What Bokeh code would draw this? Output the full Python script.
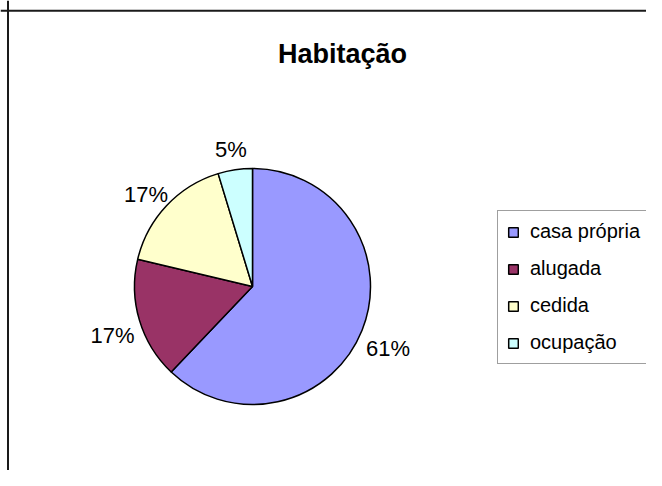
import math
from bokeh.plotting import figure
from bokeh.models import ColumnDataSource, Range1d, Span, Legend, LegendItem
from bokeh.core.properties import value
from bokeh.embed import file_html
from bokeh.resources import INLINE

# ---- data ----
title_text = "Habitação"
categories = ["casa própria", "alugada", "cedida", "ocupação"]
shares = [62.1, 16.6, 16.6, 4.7]          # slice sizes (%)
pct_labels = ["61%", "17%", "17%", "5%"]   # labels as printed on the chart
colors = ["#9999FF", "#993366", "#FFFFCC", "#CCFFFF"]

# ---- geometry (screen pixel space, y flipped) ----
W, H = 646, 470
PAGE_H = 486
cx, cy = 252, PAGE_H - 286
radius = 118
label_r = 146
font = "Liberation Sans"

total = sum(shares)
starts, ends, lx, ly = [], [], [], []
cum = 0.0
for s in shares:
    a0 = cum / total
    cum += s
    a1 = cum / total
    starts.append(math.pi / 2 - a0 * 2 * math.pi)
    ends.append(math.pi / 2 - a1 * 2 * math.pi)
    mid = (a0 + a1) / 2 * 2 * math.pi
    lx.append(cx + label_r * math.sin(mid))
    ly.append(cy + label_r * math.cos(mid) - 7.8)

src = ColumnDataSource(dict(cat=categories, start=starts, end=ends, color=colors,
                            lx=lx, ly=ly, lab=pct_labels))

p = figure(width=W, height=H, output_backend="svg", toolbar_location=None,
           x_range=Range1d(0, W), y_range=Range1d(PAGE_H - H, PAGE_H),
           min_border=0, x_axis_type=None, y_axis_type=None)
p.grid.visible = False
p.outline_line_color = None
p.background_fill_color = "white"
p.border_fill_color = "white"

# chart border (left and top visible)
p.add_layout(Span(location=7.5, dimension="height", line_color="#1a1a1a", line_width=2))
p.add_layout(Span(location=PAGE_H - 10.2, dimension="width", line_color="#1a1a1a", line_width=2))

w = p.wedge(x=cx, y=cy, radius=radius, start_angle="start", end_angle="end",
            direction="clock", fill_color="color", line_color="black", line_width=1.5,
            source=src)

p.text(x="lx", y="ly", text="lab", source=src, text_align="center",
       text_baseline="alphabetic", text_font=value(font), text_font_size="22px",
       text_color="black")

p.text(x=[342], y=[PAGE_H - 53], text=[title_text], text_align="center",
       text_baseline="alphabetic", text_font=value(font), text_font_size="27px",
       text_font_style="bold", text_color="black")

items = [LegendItem(label=c, renderers=[w], index=i) for i, c in enumerate(categories)]
legend = Legend(items=items, location=(497, H - 364),
                label_text_font=font, label_text_font_size="20px",
                label_text_color="black",
                glyph_width=12, glyph_height=12, label_standoff=11,
                spacing=14, padding=9, margin=0,
                border_line_color="#404040", border_line_width=1,
                background_fill_color="white", background_fill_alpha=1.0)
p.add_layout(legend)

open("out.html", "w").write(file_html(p, INLINE))
